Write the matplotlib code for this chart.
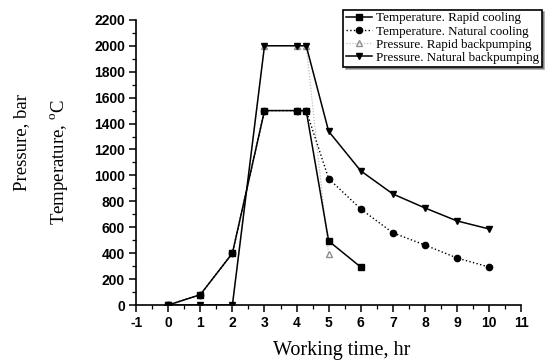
import matplotlib
matplotlib.use("Agg")
import matplotlib.pyplot as plt
from matplotlib.ticker import MultipleLocator

plt.rcParams["axes.unicode_minus"] = False
plt.rcParams["mathtext.fontset"] = "custom"
plt.rcParams["mathtext.rm"] = "Liberation Serif"

# working time (hr) and the four series
t_rapid = [0, 1, 2, 3, 4, 4.3, 5, 6]
temp_rapid = [0, 80, 400, 1500, 1500, 1500, 494, 293]

t_natural = [0, 1, 2, 3, 4, 4.3, 5, 6, 7, 8, 9, 10]
temp_natural = [0, 80, 400, 1500, 1500, 1500, 975, 741, 557, 463, 363, 293]

t_press_rapid = [0, 1, 2, 3, 4, 4.3, 5]
press_rapid = [0, 0, 0, 2000, 2000, 2000, 390]

t_press_natural = [0, 1, 2, 3, 4, 4.3, 5, 6, 7, 8, 9, 10]
press_natural = [0, 0, 0, 2000, 2000, 2000, 1340, 1035, 857, 749, 649, 587]

fig = plt.figure(figsize=(5.58, 3.61), dpi=100)
ax = fig.add_axes([0.244, 0.155, 0.69, 0.79])

serif = "Liberation Serif"

ax.plot(t_press_rapid, press_rapid, color="#b0b0b0", ls=":", lw=0.8,
        marker="^", ms=4, mfc="none", mec="#909090",
        label="Pressure. Rapid backpumping")
ax.plot(t_rapid, temp_rapid, color="black", ls="-", lw=1.1,
        marker="s", ms=5, label="Temperature. Rapid cooling")
ax.plot(t_natural, temp_natural, color="black", ls=":", lw=1.0,
        marker="o", ms=4.5, label="Temperature. Natural cooling")
ax.plot(t_press_natural, press_natural, color="black", ls="-", lw=1.1,
        marker="v", ms=5, label="Pressure. Natural backpumping")

ax.set_xlim(-1, 11)
ax.set_ylim(0, 2200)
ax.xaxis.set_major_locator(MultipleLocator(1))
ax.xaxis.set_minor_locator(MultipleLocator(0.5))
ax.yaxis.set_major_locator(MultipleLocator(200))
ax.yaxis.set_minor_locator(MultipleLocator(100))

ax.spines["top"].set_visible(False)
ax.spines["right"].set_visible(False)
ax.spines["left"].set_linewidth(1.2)
ax.spines["bottom"].set_linewidth(1.2)
ax.tick_params(which="major", direction="out", length=5, width=1.1, pad=3)
ax.tick_params(which="minor", direction="out", length=3, width=0.9)
for lab in ax.get_xticklabels() + ax.get_yticklabels():
    lab.set_fontweight("bold")
    lab.set_fontsize(10)
    lab.set_family("Liberation Sans")

ax.set_xlabel("Working time, hr", family=serif, fontsize=14.5)
ax.xaxis.set_label_coords(0.535, -0.125)
fig.text(0.038, 0.605, "Pressure, bar", rotation=90, family=serif,
         fontsize=13.5, ha="center", va="center")
fig.text(0.105, 0.55, "Temperature, $^{\\mathrm{o}}$C", rotation=90,
         family=serif, fontsize=13.5, ha="center", va="center")

handles, labels = ax.get_legend_handles_labels()
order = [1, 2, 0, 3]
leg = ax.legend([handles[i] for i in order], [labels[i] for i in order],
                loc="upper right", bbox_to_anchor=(1.06, 1.045),
                prop={"family": serif, "size": 9.4}, frameon=True,
                fancybox=False, shadow=True, handlelength=2.0,
                handletextpad=0.3, borderpad=0.2, labelspacing=0.08,
                borderaxespad=0.2)
leg.get_frame().set_edgecolor("black")
leg.get_frame().set_linewidth(1.2)

fig.savefig("out.png", dpi=100)
